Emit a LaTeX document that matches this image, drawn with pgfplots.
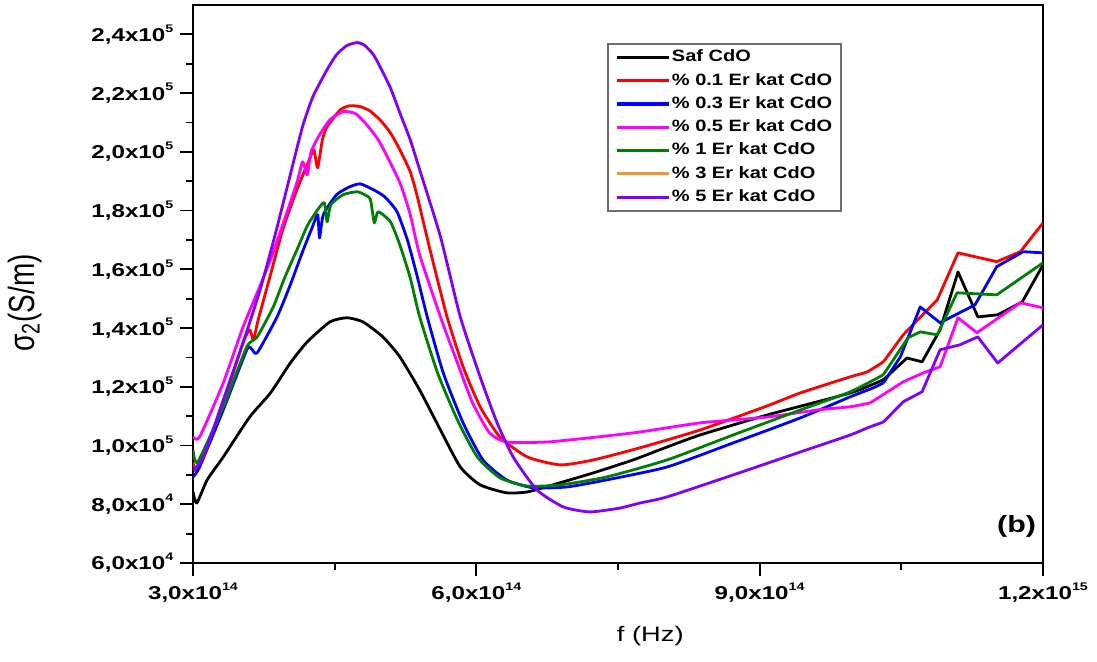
\documentclass[border=0pt]{standalone}
\usepackage{fontspec}
\setmainfont{Liberation Sans}
\usepackage{graphicx}
\usepackage{pgfplots}
\pgfplotsset{compat=1.18}

\definecolor{cviolet}{RGB}{128,0,255}
\definecolor{cgreen}{RGB}{0,128,0}
\definecolor{corange}{RGB}{240,150,50}
\definecolor{cmag}{RGB}{255,0,255}

% wide bold labels
\newcommand\stx[1]{\scalebox{1.3}[1]{#1}}
\newcommand\tl[2]{\stx{\fontsize{9.3}{10}\selectfont\bfseries #1x10\raisebox{0.5em}{\fontsize{5.5}{6}\selectfont #2}}}
\newcommand\lgd[1]{\scalebox{1.22}[1]{\fontsize{8.2}{9}\selectfont\bfseries #1}}

\begin{document}
\begin{tikzpicture}
\begin{axis}[
  scale only axis, width=425pt, height=279pt,
  xmin=3, xmax=12, ymin=6, ymax=25,
  xtick={3,6,9,12},
  xticklabels={{\tl{3,0}{14}},{\tl{6,0}{14}},{\tl{9,0}{14}},{\tl{1,2}{15}}},
  ytick={6,8,10,12,14,16,18,20,22,24},
  yticklabels={{\tl{6,0}{4}},{\tl{8,0}{4}},{\tl{1,0}{5}},{\tl{1,2}{5}},{\tl{1,4}{5}},{\tl{1,6}{5}},{\tl{1,8}{5}},{\tl{2,0}{5}},{\tl{2,2}{5}},{\tl{2,4}{5}}},
  minor x tick num=1, minor y tick num=1,
  tick align=outside, tick pos=left,
  major tick length=6.3pt, minor tick length=3.5pt,
  every tick/.style={black, line width=0.9pt},
  axis line style={line width=0.9pt},
  xlabel={\stx{\fontsize{10.5}{12}\selectfont f (Hz)}},
  xlabel style={at={(axis description cs:0.538,-0.131)}, anchor=center},
  ylabel={\scalebox{1}[1.3]{\fontsize{14}{16}\selectfont σ\textsubscript{2}(S/m)}},
  ylabel style={at={(axis description cs:-0.198,0.466)}, anchor=center, rotate=0},
  legend style={at={(axis description cs:0.487,0.932)}, anchor=north west,
    draw={rgb,255:red,110;green,110;blue,110}, line width=0.8pt, fill=white,
    inner xsep=4pt, inner ysep=2.5pt, row sep=3pt,
    nodes={inner sep=0.5pt, text height=6pt, text depth=1.65pt},
    /tikz/every even column/.style={column sep=0pt}},
  legend cell align=left,
  legend image code/.code={\draw[#1, line width=1.6pt] (0pt,0pt) -- (26pt,0pt);},
  every axis plot/.append style={line width=1.4pt, line join=round},
  body/.style={smooth, tension=0.35},
]
\coordinate (bl) at (rel axis cs:0,0);
\coordinate (tr) at (rel axis cs:1,1);

% Saf CdO: smooth band, then the noisy high-frequency end
\addplot[black, body] coordinates {
(3.00,8.42)(3.04,8.04)(3.15,8.83)(3.32,9.61)(3.60,10.97)(3.82,11.79)(4.03,12.81)
(4.21,13.53)(4.45,14.21)(4.63,14.35)(4.80,14.21)(5.01,13.70)(5.19,13.02)(5.40,11.89)
(5.62,10.53)(5.83,9.27)(6.04,8.66)(6.32,8.39)(6.54,8.42)(6.81,8.66)(7.24,9.07)
(7.66,9.51)(8.02,9.95)(8.37,10.36)(9.08,11.04)(9.96,11.79)(10.31,12.24)};
\addlegendentry{\lgd{Saf CdO}}
\addplot[black, forget plot] coordinates {
(10.31,12.24)(10.56,12.98)(10.72,12.85)(10.91,13.94)(11.10,15.91)(11.31,14.38)
(11.52,14.45)(11.78,14.89)(12.00,16.15)};

% 0.1 Er
\addplot[red, body] coordinates {
(3.00,9.44)(3.05,9.17)(3.32,11.45)(3.53,13.50)(3.60,13.94)(3.64,13.60)(3.69,14.28)
(3.82,15.81)(3.95,17.35)(4.10,18.71)(4.24,19.80)(4.28,20.07)(4.32,19.46)(4.37,20.41)
(4.42,20.86)(4.56,21.43)(4.66,21.57)(4.77,21.54)(4.87,21.40)(4.98,21.09)(5.09,20.65)
(5.19,20.07)(5.30,19.32)(5.37,18.54)(5.51,16.66)(5.69,14.38)(5.86,12.68)(6.04,11.32)
(6.25,10.29)(6.54,9.61)(6.89,9.34)(7.24,9.51)(7.73,9.92)(8.37,10.53)(9.08,11.35)
(9.43,11.79)(9.96,12.34)(10.14,12.51)(10.31,12.85)};
\addlegendentry{\lgd{\% 0.1 Er kat CdO}}
\addplot[red, forget plot] coordinates {
(10.31,12.85)(10.52,13.77)(10.88,14.96)(11.10,16.56)(11.51,16.26)(11.76,16.60)(12.00,17.58)};

% 0.3 Er
\addplot[blue, body] coordinates {
(3.00,8.93)(3.07,9.27)(3.32,11.21)(3.57,13.26)(3.62,13.29)(3.68,13.16)(3.89,14.38)
(4.03,15.47)(4.16,16.60)(4.26,17.41)(4.32,17.86)(4.34,17.07)(4.38,17.86)(4.52,18.54)
(4.66,18.81)(4.77,18.91)(4.91,18.71)(5.03,18.47)(5.16,17.96)(5.27,17.00)(5.37,15.81)
(5.48,14.38)(5.65,12.47)(5.86,10.77)(6.07,9.51)(6.32,8.83)(6.60,8.56)(6.96,8.59)
(7.38,8.83)(8.02,9.27)(8.72,10.09)(9.43,10.94)(9.96,11.66)(10.20,11.96)(10.31,12.13)};
\addlegendentry{\lgd{\% 0.3 Er kat CdO}}
\addplot[blue, forget plot] coordinates {
(10.31,12.13)(10.49,13.02)(10.70,14.72)(10.91,14.18)(11.28,14.79)(11.51,16.09)
(11.79,16.60)(12.00,16.56)};

% 0.5 Er
\addplot[cmag, body] coordinates {
(3.00,10.29)(3.07,10.29)(3.32,12.13)(3.53,14.04)(3.68,15.20)(3.82,16.32)(3.95,17.52)
(4.10,18.95)(4.16,19.66)(4.21,19.22)(4.25,20.00)(4.34,20.58)(4.45,21.09)(4.59,21.37)
(4.72,21.30)(4.84,20.92)(4.98,20.31)(5.19,18.95)(5.30,17.86)(5.40,16.49)(5.62,14.38)
(5.80,12.81)(5.96,11.45)(6.14,10.43)(6.32,10.12)(6.75,10.12)(7.28,10.29)(7.73,10.46)
(8.37,10.77)(9.08,10.97)(9.61,11.21)(9.96,11.32)(10.17,11.45)};
\addlegendentry{\lgd{\% 0.5 Er kat CdO}}
\addplot[cmag, forget plot] coordinates {
(10.17,11.45)(10.52,12.17)(10.73,12.47)(10.91,12.68)(11.10,14.35)(11.30,13.84)
(11.76,14.86)(12.00,14.69)};

% 1 Er
\addplot[cgreen, body] coordinates {
(3.00,9.85)(3.05,9.44)(3.32,11.32)(3.57,13.36)(3.68,13.70)(3.85,14.72)(3.97,15.71)
(4.10,16.66)(4.21,17.48)(4.32,18.03)(4.39,18.27)(4.42,17.62)(4.46,18.20)(4.59,18.54)
(4.74,18.64)(4.84,18.50)(4.88,18.37)(4.92,17.58)(4.96,17.96)(5.09,17.62)(5.19,16.83)
(5.30,15.71)(5.40,14.38)(5.59,12.47)(5.80,10.87)(6.01,9.61)(6.25,8.90)(6.54,8.62)
(6.89,8.66)(7.38,8.93)(8.02,9.51)(8.72,10.36)(9.43,11.21)(9.96,11.83)(10.31,12.41)};
\addlegendentry{\lgd{\% 1 Er kat CdO}}
\addplot[cgreen, forget plot] coordinates {
(10.31,12.41)(10.57,13.67)(10.70,13.87)(10.88,13.77)(11.09,15.20)(11.51,15.13)(12.00,16.22)};

% 3 Er (legend key)
\addlegendimage{corange, line width=1.4pt}
\addlegendentry{\lgd{\% 3 Er kat CdO}}

% 5 Er
\addplot[cviolet, body] coordinates {
(3.00,9.17)(3.11,9.61)(3.32,11.55)(3.53,13.50)(3.71,15.30)(3.87,17.18)(4.03,19.22)
(4.16,20.86)(4.27,21.88)(4.42,22.80)(4.52,23.31)(4.63,23.62)(4.74,23.72)(4.82,23.62)
(4.91,23.31)(4.98,22.90)(5.09,22.18)(5.19,21.33)(5.30,20.41)(5.40,19.39)(5.62,17.11)
(5.83,14.38)(6.04,12.34)(6.22,10.77)(6.39,9.61)(6.64,8.49)(6.92,7.91)(7.20,7.74)
(7.52,7.87)(7.73,8.04)(8.02,8.25)(8.72,9.00)(9.43,9.78)(9.96,10.36)(10.14,10.60)
(10.31,10.80)};
\addlegendentry{\lgd{\% 5 Er kat CdO}}
\addplot[cviolet, forget plot] coordinates {
(10.31,10.80)(10.52,11.49)(10.72,11.83)(10.91,13.26)(11.12,13.43)(11.31,13.70)
(11.52,12.81)(12.00,14.11)};

\node at (axis description cs:0.969,0.065) {\stx{\fontsize{11.7}{13}\selectfont\bfseries (b)}};
\end{axis}
\pgfresetboundingbox
\path[use as bounding box] ([shift={(-96.5pt,-49pt)}]bl) rectangle ([shift={(27pt,2.5pt)}]tr);
\end{tikzpicture}
\end{document}
